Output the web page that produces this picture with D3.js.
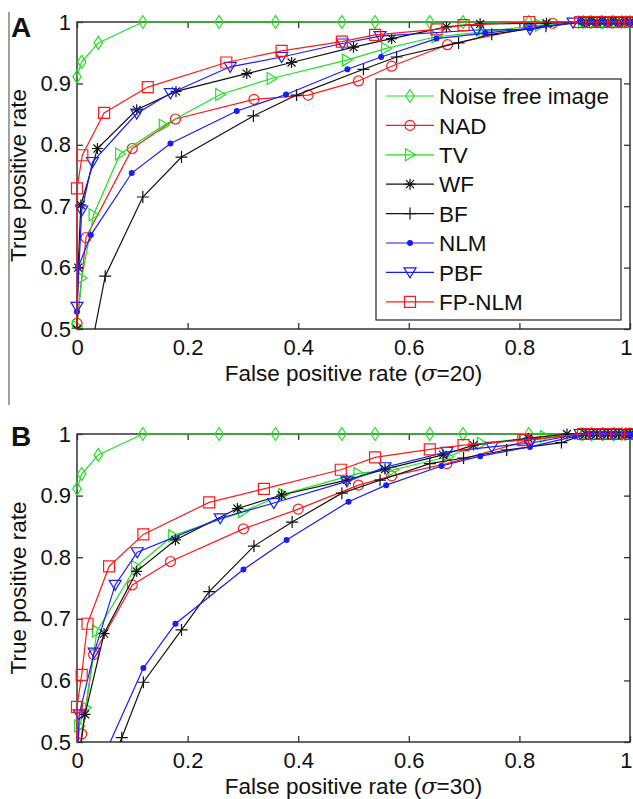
<!DOCTYPE html>
<html><head><meta charset="utf-8">
<script src="https://cdn.jsdelivr.net/npm/d3@7/dist/d3.min.js"></script>
<style>
html,body{margin:0;padding:0;background:#fff;}
svg{display:block;font-family:"Liberation Sans",Arial,Helvetica,sans-serif;}
</style></head>
<body>
<svg id="chart" width="633" height="799"></svg>
<script>
// ---------- data ----------
const seriesNames = ["Noise free image","NAD","TV","WF","BF","NLM","PBF","FP-NLM"];
const xTicks = [0,0.2,0.4,0.6,0.8,1];
const yTicks = [0.5,0.6,0.7,0.8,0.9,1];
const xTickLabels = ["0","0.2","0.4","0.6","0.8","1"];
const yTickLabels = ["0.5","0.6","0.7","0.8","0.9","1"];
const panelLabels = ["A","B"];
const sigmaValues = ["20","30"];

const noiseFree = [[0,0.911],[0.0085,0.935],[0.0385,0.966],[0.119,1],[0.257,1],[0.359,1],[0.479,1],[0.539,1],[0.638,1],[0.698,1],[0.817,1],[0.915,1],[0.93,1],[0.95,1],[0.97,1],[0.985,1],[1,1]];

const A_NAD = [[0,0.509],[0.0163,0.649],[0.1,0.794],[0.178,0.842],[0.32,0.874],[0.418,0.881],[0.509,0.904],[0.569,0.928],[0.67,0.963],[0.86,0.998],[0.92,1],[0.94,1],[0.96,1],[0.98,1],[1,1]];
const A_TV = [[0,0.504],[0.0085,0.583],[0.03,0.686],[0.078,0.785],[0.157,0.832],[0.259,0.882],[0.352,0.908],[0.488,0.938],[0.559,0.957],[0.65,0.976],[0.735,0.984],[0.837,0.995],[0.915,1],[0.935,1],[0.955,1],[0.975,1],[1,1]];
const A_WF = [[0,0.5],[0.002,0.6],[0.007,0.702],[0.037,0.794],[0.108,0.857],[0.179,0.887],[0.307,0.916],[0.388,0.934],[0.5,0.959],[0.569,0.973],[0.668,0.992],[0.729,0.997],[0.849,0.998],[0.92,1],[0.94,1],[0.96,1],[0.98,1],[1,1]];
const A_BF = [[0.015,0.42],[0.051,0.586],[0.119,0.715],[0.189,0.78],[0.319,0.847],[0.397,0.881],[0.518,0.923],[0.578,0.943],[0.69,0.966],[0.75,0.98],[0.848,0.993],[0.92,1],[0.94,1],[0.96,1],[0.98,1],[1,1]];
const A_NLM = [[0,0.528],[0.002,0.6],[0.025,0.653],[0.099,0.754],[0.169,0.802],[0.289,0.855],[0.378,0.882],[0.489,0.923],[0.55,0.943],[0.65,0.973],[0.738,0.982],[0.819,0.99],[0.91,1],[0.93,1],[0.95,1],[0.97,1],[0.99,1],[1,1]];
const A_PBF = [[0,0.536],[0.0085,0.693],[0.028,0.772],[0.108,0.851],[0.169,0.884],[0.277,0.927],[0.37,0.943],[0.48,0.965],[0.548,0.977],[0.723,0.987],[0.819,0.988],[0.897,0.999],[0.92,1],[0.94,1],[0.96,1],[0.98,1],[1,1]];
const A_FPNLM = [[0,0.45],[0,0.729],[0.0096,0.783],[0.049,0.852],[0.128,0.894],[0.27,0.934],[0.37,0.953],[0.479,0.968],[0.539,0.979],[0.65,0.988],[0.699,0.995],[0.818,1],[0.91,1],[0.93,1],[0.95,1],[0.97,1],[0.99,1],[1,1]];

const B_NAD = [[0,0.45],[0.0085,0.513],[0.03,0.642],[0.1,0.755],[0.169,0.793],[0.301,0.846],[0.4,0.878],[0.509,0.917],[0.569,0.932],[0.669,0.952],[0.818,0.99],[0.92,1],[0.94,1],[0.96,1],[0.98,1],[1,1]];
const B_TV = [[0,0.45],[0.004,0.526],[0.016,0.556],[0.036,0.68],[0.107,0.785],[0.174,0.835],[0.3,0.874],[0.373,0.902],[0.509,0.936],[0.572,0.942],[0.671,0.963],[0.732,0.985],[0.846,0.996],[0.92,1],[0.94,1],[0.96,1],[0.98,1],[1,1]];
const B_WF = [[0,0.45],[0.0145,0.545],[0.049,0.676],[0.108,0.777],[0.178,0.828],[0.29,0.879],[0.37,0.901],[0.488,0.925],[0.557,0.943],[0.662,0.966],[0.717,0.982],[0.816,0.993],[0.886,1],[0.92,1],[0.94,1],[0.96,1],[0.98,1],[1,1]];
const B_BF = [[0.06,0.46],[0.081,0.507],[0.12,0.597],[0.189,0.682],[0.239,0.744],[0.32,0.818],[0.389,0.857],[0.479,0.904],[0.548,0.925],[0.638,0.952],[0.699,0.961],[0.777,0.974],[0.876,0.986],[0.92,1],[0.94,1],[0.96,1],[0.98,1],[1,1]];
const B_NLM = [[0.03,0.44],[0.12,0.62],[0.178,0.692],[0.301,0.78],[0.379,0.828],[0.491,0.89],[0.559,0.917],[0.659,0.948],[0.729,0.964],[0.819,0.979],[0.9,0.996],[0.93,1],[0.95,1],[0.97,1],[0.99,1],[1,1]];
const B_PBF = [[0,0.45],[0.004,0.545],[0.031,0.645],[0.069,0.755],[0.109,0.808],[0.259,0.863],[0.356,0.888],[0.488,0.923],[0.557,0.946],[0.669,0.971],[0.75,0.979],[0.819,0.985],[0.91,1],[0.93,1],[0.95,1],[0.97,1],[0.99,1],[1,1]];
const B_FPNLM = [[0,0.45],[0,0.557],[0.0085,0.609],[0.019,0.692],[0.058,0.785],[0.12,0.837],[0.239,0.889],[0.338,0.911],[0.477,0.942],[0.539,0.962],[0.638,0.975],[0.699,0.982],[0.807,0.99],[0.915,1],[0.935,1],[0.955,1],[0.975,1],[1,1]];

const panelData = [
  [noiseFree, A_NAD, A_TV, A_WF, A_BF, A_NLM, A_PBF, A_FPNLM],
  [noiseFree, B_NAD, B_TV, B_WF, B_BF, B_NLM, B_PBF, B_FPNLM]
];

// ---------- styles ----------
const GREEN = "#1fe01f", RED = "#ff1a1a", BLUE = "#1a1aff", BLACK = "#111";
const seriesColors = [GREEN, RED, GREEN, BLACK, BLACK, BLUE, BLUE, RED];
const seriesMarkers = ["diamond","circle","triRight","star","plus","dot","triDown","square"];

function markerPath(type){
  switch(type){
    case "diamond": return "M0,-6.5L4.2,0L0,6.5L-4.2,0Z";
    case "circle": return "M5,0A5,5 0 1,1 -5,0A5,5 0 1,1 5,0Z";
    case "triRight": return "M-4.5,-6L5.5,0L-4.5,6Z";
    case "triDown": return "M-6,-4.5L6,-4.5L0,5.5Z";
    case "square": return "M-5.5,-5.5H5.5V5.5H-5.5Z";
    case "star": return "M-5.5,0H5.5M0,-5.5V5.5M-4,-4L4,4M-4,4L4,-4";
    case "plus": return "M-6,0H6M0,-6V6";
    case "dot": return "M2.4,0A2.4,2.4 0 1,1 -2.4,0A2.4,2.4 0 1,1 2.4,0Z";
  }
}

const svg = d3.select("#chart");
const left = 77, right = 630;
const panels = [{top:22, bottom:329}, {top:434, bottom:742}];

// thin frame line at left of panel A
svg.append("line").attr("x1",9).attr("x2",9).attr("y1",12).attr("y2",405)
  .attr("stroke","#777").attr("stroke-width",1.4);

panels.forEach((p, pi) => {
  const x = d3.scaleLinear().domain([0,1]).range([left, right]);
  const y = d3.scaleLinear().domain([0.5,1]).range([p.bottom, p.top]);
  const g = svg.append("g");

  const clipId = "clip" + pi;
  svg.append("clipPath").attr("id", clipId).append("rect")
    .attr("x", left - 7).attr("y", p.top - 8).attr("width", right - left + 14).attr("height", p.bottom - p.top + 8);

  // axes box and inward ticks
  const axisColor = "#333";
  const xb = g.append("g").attr("transform", `translate(0,${p.bottom})`)
    .call(d3.axisBottom(x).tickValues(xTicks).tickSize(-6).tickPadding(10).tickFormat((d,i)=>xTickLabels[i]));
  const xt = g.append("g").attr("transform", `translate(0,${p.top})`)
    .call(d3.axisTop(x).tickValues(xTicks).tickSize(-6).tickFormat(""));
  const yl = g.append("g").attr("transform", `translate(${left},0)`)
    .call(d3.axisLeft(y).tickValues(yTicks).tickSize(-6).tickPadding(6).tickFormat((d,i)=>yTickLabels[i]));
  const yr = g.append("g").attr("transform", `translate(${right},0)`)
    .call(d3.axisRight(y).tickValues(yTicks).tickSize(-6).tickFormat(""));
  [xb,xt,yl,yr].forEach(a => {
    a.select(".domain").remove();
    a.selectAll(".tick line").attr("stroke", axisColor).attr("stroke-width", 1.3);
    a.selectAll("text").attr("font-size", 22).attr("fill", "#111")
      .attr("font-family", '"Liberation Sans",Arial,sans-serif');
  });
  xb.selectAll("text").attr("dy", "0.71em");
  // keep the last x tick label ("1") inside the page
  xb.selectAll(".tick text").filter(d => d === 1).attr("text-anchor", "end").attr("dx", 2);
  g.append("rect").attr("x", left).attr("y", p.top).attr("width", right-left).attr("height", p.bottom-p.top)
    .attr("fill", "none").attr("stroke", axisColor).attr("stroke-width", 1.5);

  // series
  const line = d3.line().x(d => x(d[0])).y(d => y(d[1]));
  const plot = g.append("g").attr("clip-path", `url(#${clipId})`);
  panelData[pi].forEach((data, si) => {
    const col = seriesColors[si];
    plot.append("path").datum(data).attr("d", line)
      .attr("fill","none").attr("stroke", col).attr("stroke-width", 1.2);
    const mk = seriesMarkers[si];
    plot.selectAll(null).data(data).enter().append("path")
      .attr("d", markerPath(mk))
      .attr("transform", d => `translate(${x(d[0])},${y(d[1])})`)
      .attr("fill", mk === "dot" ? col : "none")
      .attr("stroke", col).attr("stroke-width", 1.2);
  });

  // panel label
  svg.append("text").attr("x", 11).attr("y", p.top + (pi===0 ? 15 : 12)).attr("font-size", 28)
    .attr("font-weight","bold").attr("fill","#111").text(panelLabels[pi]);

  // x label
  const xl = svg.append("text").attr("x", (left+right)/2).attr("y", p.bottom + 52)
    .attr("text-anchor","middle").attr("font-size", 22.5).attr("fill","#111");
  xl.append("tspan").text("False positive rate (");
  xl.append("tspan").attr("font-style","italic").attr("font-family",'"DejaVu Serif",serif').text("σ");
  xl.append("tspan").text("=" + sigmaValues[pi] + ")");

  // y label
  svg.append("text").attr("transform", `translate(26,${(p.top+p.bottom)/2}) rotate(-90)`)
    .attr("text-anchor","middle").attr("font-size", 22.5).attr("fill","#111").text("True positive rate");

  // legend (panel A only)
  if (pi === 0) {
    const lg = svg.append("g");
    lg.append("rect").attr("x", 376).attr("y", 79).attr("width", 245).attr("height", 241)
      .attr("fill","#fff").attr("stroke", axisColor).attr("stroke-width", 1.3);
    seriesNames.forEach((name, si) => {
      const yy = 96 + si * 29.4;
      const col = seriesColors[si];
      lg.append("line").attr("x1", 386).attr("x2", 434).attr("y1", yy).attr("y2", yy)
        .attr("stroke", col).attr("stroke-width", 1.2);
      const mk = seriesMarkers[si];
      lg.append("path").attr("d", markerPath(mk)).attr("transform", `translate(410,${yy})`)
        .attr("fill", mk === "dot" ? col : "none").attr("stroke", col).attr("stroke-width", 1.2);
      lg.append("text").attr("x", 439).attr("y", yy).attr("dy","0.36em")
        .attr("font-size", 22.5).attr("fill","#111").text(name);
    });
  }
});
</script>
</body></html>
